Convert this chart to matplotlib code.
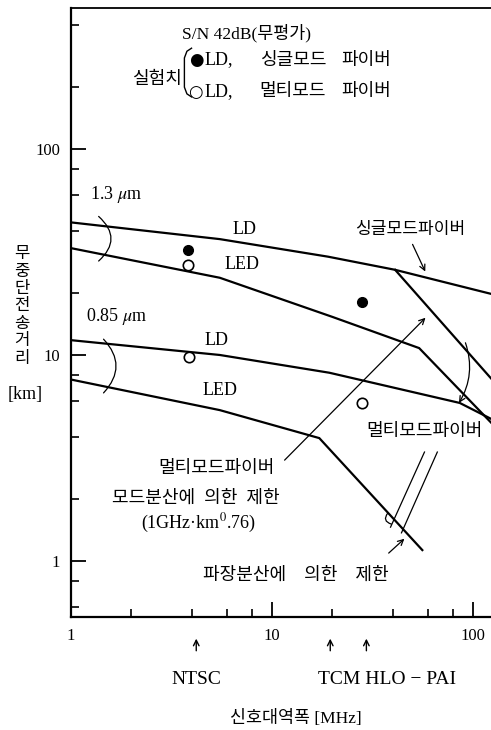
import matplotlib
matplotlib.use('Agg')
import matplotlib.pyplot as plt
from matplotlib.ticker import FixedLocator, NullFormatter

plt.rcParams['font.family'] = ['Liberation Serif', 'Noto Sans CJK KR', 'DejaVu Sans']
plt.rcParams['mathtext.fontset'] = 'stix'

# lines (bandwidth MHz, distance km)
bw_ld13 = [1, 5.5, 19, 41, 123]
dist_ld13 = [44, 36.5, 30, 25.9, 19.8]
bw_led13 = [1, 5.5, 20, 54, 123]
dist_led13 = [33, 23.7, 15.3, 10.8, 4.7]
bw_ld085 = [1, 5.5, 19.3, 86, 123]
dist_ld085 = [11.8, 10.0, 8.2, 5.85, 4.9]
bw_led085 = [1, 5.5, 17.2, 56]
dist_led085 = [7.6, 5.4, 3.95, 1.13]
# single mode fiber limit
bw_sm = [41, 123]
dist_sm = [25.9, 7.7]

# measured values
filled_bw = [3.8, 27.9]
filled_dist = [32.4, 18.1]
open_bw = [3.8, 3.85, 28.2]
open_dist = [27.4, 9.8, 5.85]

xticks_major = [1, 10, 100]
xticks_minor = [2, 4, 6, 8, 20, 40, 60, 80]
yticks_major = [1, 10, 100]
yticks_minor = [0.6, 0.8, 2, 4, 6, 8, 20, 40, 60, 80, 200, 400]

# signal bandwidth markers
sig_bw = [4.2, 19.5, 29.5]

fig = plt.figure(figsize=(4.91, 7.30), dpi=100)
ax = fig.add_axes([71/491, 113/730, 420/491, 609/730])
ax.set_xscale('log')
ax.set_yscale('log')
ax.set_xlim(1, 123)
ax.set_ylim(0.535, 483)

lw = 1.6
for bx, dy in [(bw_ld13, dist_ld13), (bw_led13, dist_led13), (bw_ld085, dist_ld085),
               (bw_led085, dist_led085), (bw_sm, dist_sm)]:
    ax.plot(bx, dy, color='black', lw=lw, solid_joinstyle='miter')

ax.plot(filled_bw, filled_dist, 'o', color='black', ms=7, ls='none')
ax.plot(open_bw, open_dist, 'o', mfc='white', mec='black', mew=1.2, ms=7.5, ls='none')

# axes look
ax.spines['right'].set_visible(False)
for s in ['left', 'bottom', 'top']:
    ax.spines[s].set_linewidth(1.6)
ax.spines['top'].set_linewidth(1.3)

ax.xaxis.set_major_locator(FixedLocator(xticks_major))
ax.xaxis.set_minor_locator(FixedLocator(xticks_minor))
ax.yaxis.set_major_locator(FixedLocator(yticks_major))
ax.yaxis.set_minor_locator(FixedLocator(yticks_minor))
ax.set_xticklabels([str(v) for v in xticks_major])
ax.set_yticklabels([str(v) for v in yticks_major])
ax.xaxis.set_minor_formatter(NullFormatter())
ax.yaxis.set_minor_formatter(NullFormatter())
ax.tick_params(which='major', direction='in', length=11, width=1.3, labelsize=12)
ax.tick_params(which='minor', direction='in', length=6, width=1.2)
ax.tick_params(axis='x', which='major', pad=8)
ax.tick_params(axis='y', which='major', pad=8)

fs = 13
mk = ['DejaVu Sans']
# legend block
ax.text(3.55, 366, 'S/N 42dB(무평가)', fontsize=12.5, va='center', ha='left')
ax.text(2.68, 218, '실험치', fontsize=fs, va='center', ha='center')
ax.text(4.21, 270, '●', fontsize=12, va='center', ha='center', family=mk)
ax.text(4.62, 270, 'LD,', fontsize=fs, va='center', ha='left')
ax.text(8.8, 270, '싱글모드', fontsize=fs, va='center', ha='left')
ax.text(22.2, 270, '파이버', fontsize=fs, va='center', ha='left')
ax.text(4.14, 189, '○', fontsize=12, va='center', ha='center', family=mk)
ax.text(4.62, 189, 'LD,', fontsize=fs, va='center', ha='left')
ax.text(8.7, 189, '멀티모드', fontsize=fs, va='center', ha='left')
ax.text(22.2, 189, '파이버', fontsize=fs, va='center', ha='left')
bx = [0.287, 0.276, 0.270, 0.270, 0.276, 0.287]
by = [0.934, 0.929, 0.918, 0.870, 0.859, 0.854]
ax.plot(bx, by, color='black', lw=1.0, transform=ax.transAxes, clip_on=False)

# curve labels
ax.text(1.25, 60, '1.3 $\\mu$m', fontsize=fs, va='center', ha='left')
ax.text(7.3, 40.5, 'LD', fontsize=fs, va='center', ha='center')
ax.text(7.1, 27.4, 'LED', fontsize=fs, va='center', ha='center')
ax.text(1.19, 15.3, '0.85 $\\mu$m', fontsize=fs, va='center', ha='left')
ax.text(5.3, 11.8, 'LD', fontsize=fs, va='center', ha='center')
ax.text(5.5, 6.76, 'LED', fontsize=fs, va='center', ha='center')
ax.text(48.6, 40.5, '싱글모드파이버', fontsize=12.3, va='center', ha='center')
ax.text(57.5, 4.23, '멀티모드파이버', fontsize=fs, va='center', ha='center')
ax.text(5.3, 2.82, '멀티모드파이버', fontsize=fs, va='center', ha='center')
ax.text(4.2, 2.02, '모드분산에  의한  제한', fontsize=fs, va='center', ha='center')
ax.text(4.3, 1.53, '(1GHz·km$^{0}$.76)', fontsize=fs, va='center', ha='center')
ax.text(13.2, 0.855, '파장분산에\u3000의한\u3000제한', fontsize=fs, va='center', ha='center')

thin = dict(color='black', lw=0.9)
# arrows
ax.annotate('', xy=(58.7, 24.7), xytext=(49.4, 35.4),
            arrowprops=dict(arrowstyle='->', **thin))
ax.annotate('', xy=(59.4, 15.5), xytext=(11.3, 3.02),
            arrowprops=dict(arrowstyle='->', **thin))
ax.annotate('', xy=(46.7, 1.31), xytext=(37.2, 1.07),
            arrowprops=dict(arrowstyle='->', **thin))
# double lines for wavelength dispersion
ax.plot([57.4, 38.9], [3.38, 1.46], **thin)
ax.plot([66.5, 44.1], [3.38, 1.37], **thin)

# grouping arcs
ax.annotate('', xy=(1.34, 28), xytext=(1.34, 48),
            arrowprops=dict(arrowstyle='-', connectionstyle='arc3,rad=-0.6', **thin))
ax.annotate('', xy=(1.42, 6.4), xytext=(1.42, 12.2),
            arrowprops=dict(arrowstyle='-', connectionstyle='arc3,rad=-0.5', **thin))
ax.annotate('', xy=(83.8, 5.7), xytext=(90.8, 11.8),
            arrowprops=dict(arrowstyle='->', connectionstyle='arc3,rad=-0.25', **thin))
ax.annotate('', xy=(40.5, 1.5), xytext=(38.5, 1.75),
            arrowprops=dict(arrowstyle='-', connectionstyle='arc3,rad=0.9', **thin))

# signal markers below axis
xt = ax.get_xaxis_transform()
for b in sig_bw:
    ax.annotate('', xy=(b, -0.031), xytext=(b, -0.060), xycoords=xt, textcoords=xt,
                arrowprops=dict(arrowstyle='->', color='black', lw=1.0), annotation_clip=False)
ax.text(4.2, -0.103, 'NTSC', transform=xt, fontsize=14, ha='center', va='center')
ax.text(16.9, -0.103, 'TCM HLO − PAI', transform=xt, fontsize=14, ha='left', va='center')
ax.text(13.2, -0.166, '신호대역폭 [MHz]', transform=xt, fontsize=12.5, ha='center', va='center')

# vertical y label
ax.text(-0.117, 0.51, '\n'.join('무중단전송거리'), transform=ax.transAxes, fontsize=12,
        ha='center', va='center', linespacing=1.12)
ax.text(-0.11, 0.365, '[km]', transform=ax.transAxes, fontsize=13, ha='center', va='center')

fig.savefig('out.png', dpi=100)
